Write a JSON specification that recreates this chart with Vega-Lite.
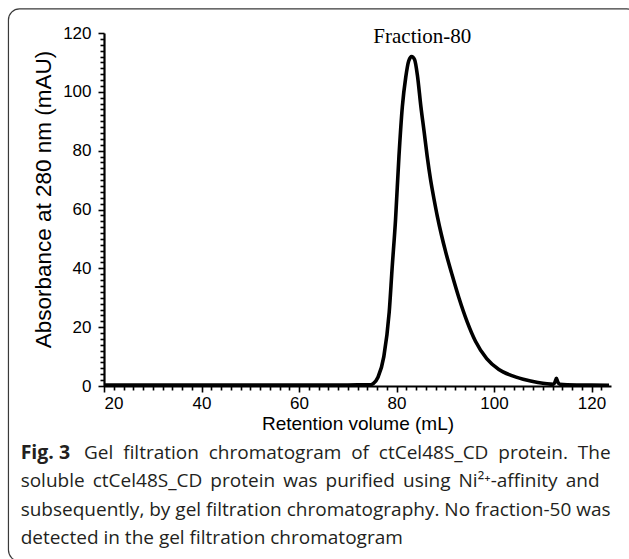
{
  "$schema": "https://vega.github.io/schema/vega-lite/v6.json",
  "width": 507,
  "height": 353,
  "autosize": "none",
  "padding": {"left": 104, "top": 33, "right": 18, "bottom": 173},
  "background": "white",
  "config": {"view": {"stroke": null}},
  "data": {
    "values": [
      {"v": 20, "a": 0.3}, {"v": 40, "a": 0.3}, {"v": 60, "a": 0.3}, {"v": 70, "a": 0.35},
      {"v": 74.5, "a": 0.4}, {"v": 75.2, "a": 0.8}, {"v": 76.2, "a": 3}, {"v": 77.4, "a": 10},
      {"v": 78.5, "a": 25}, {"v": 79.1, "a": 40}, {"v": 79.8, "a": 56.5}, {"v": 80.5, "a": 78},
      {"v": 81.2, "a": 95}, {"v": 81.9, "a": 105}, {"v": 82.5, "a": 110.5}, {"v": 83.1, "a": 112},
      {"v": 83.7, "a": 111}, {"v": 84.3, "a": 105.5}, {"v": 85.0, "a": 95}, {"v": 85.7, "a": 86},
      {"v": 86.3, "a": 78}, {"v": 87.0, "a": 70}, {"v": 87.7, "a": 63.5}, {"v": 88.4, "a": 57.5},
      {"v": 89.2, "a": 51.5}, {"v": 90.1, "a": 45.5}, {"v": 91.4, "a": 37.8}, {"v": 92.8, "a": 30},
      {"v": 94.5, "a": 21.8}, {"v": 96.2, "a": 15.2}, {"v": 98.5, "a": 9.3}, {"v": 101, "a": 5.6},
      {"v": 103.5, "a": 3.6}, {"v": 106, "a": 2.3}, {"v": 109, "a": 1.2}, {"v": 112.2, "a": 0.6},
      {"v": 112.5, "a": 1.3}, {"v": 112.8, "a": 2.6}, {"v": 113.1, "a": 1.3}, {"v": 113.5, "a": 0.6},
      {"v": 117, "a": 0.35}, {"v": 120, "a": 0.3}, {"v": 123.6, "a": 0.25}
    ]
  },
  "resolve": {"axis": {"x": "independent", "y": "independent"}},
  "layer": [
    {
      "transform": [{"filter": "datum.v == 20"}],
      "mark": {"type": "rect", "fill": "transparent", "stroke": "#3a3a3a", "strokeWidth": 1.2, "cornerRadius": 11},
      "encoding": {
        "x": {"datum": 0.4, "type": "quantitative", "axis": null},
        "x2": {"datum": 129.5},
        "y": {"datum": 128.2, "type": "quantitative", "axis": null},
        "y2": {"datum": -59.5}
      }
    },
    {
      "mark": {"type": "line", "color": "black", "strokeWidth": 3.6, "strokeJoin": "round", "interpolate": "monotone"},
      "encoding": {
        "x": {
          "field": "v", "type": "quantitative",
          "scale": {"domain": [20, 124], "nice": false, "zero": false},
          "axis": {
            "orient": "bottom",
            "title": "Retention volume (mL)",
            "titleFont": "Liberation Sans", "titleFontSize": 19, "titleFontWeight": "normal", "titleColor": "black", "titlePadding": 3,
            "values": [20, 40, 60, 80, 100, 120],
            "labelOverlap": false,
            "labelFont": "Liberation Sans", "labelFontSize": 17, "labelColor": "black", "labelPadding": 3,
            "tickSize": 6, "tickColor": "black", "tickWidth": 1.6,
            "domainColor": "black", "domainWidth": 2.2,
            "grid": false
          }
        },
        "y": {
          "field": "a", "type": "quantitative",
          "scale": {"domain": [0, 120], "nice": false},
          "axis": {
            "orient": "left",
            "title": "Absorbance at 280 nm (mAU)",
            "titleFont": "Liberation Sans", "titleFontSize": 22.5, "titleFontWeight": "normal", "titleColor": "black", "titlePadding": 7,
            "titleY": 166,
            "values": [0, 20, 40, 60, 80, 100, 120],
            "labelOverlap": false,
            "labelFont": "Liberation Sans", "labelFontSize": 17, "labelColor": "black", "labelPadding": 7,
            "tickSize": 6, "tickColor": "black", "tickWidth": 1.6,
            "domainColor": "black", "domainWidth": 2.2,
            "grid": false
          }
        }
      }
    },
    {
      "mark": {"type": "line", "opacity": 0},
      "encoding": {
        "x": {
          "field": "v", "type": "quantitative",
          "axis": {
            "orient": "bottom", "title": null, "labels": false, "domain": false, "grid": false,
            "values": [22,24,26,28,30,32,34,36,38,42,44,46,48,50,52,54,56,58,62,64,66,68,70,72,74,76,78,82,84,86,88,90,92,94,96,98,102,104,106,108,110,112,114,116,118,122],
            "tickSize": 4, "tickColor": "black", "tickWidth": 1.6
          }
        },
        "y": {
          "field": "a", "type": "quantitative",
          "axis": {
            "orient": "left", "title": null, "labels": false, "domain": false, "grid": false,
            "values": [2,4,6,8,10,12,14,16,18,22,24,26,28,30,32,34,36,38,42,44,46,48,50,52,54,56,58,62,64,66,68,70,72,74,76,78,82,84,86,88,90,92,94,96,98,102,104,106,108,110,112,114,116,118],
            "tickSize": 4, "tickColor": "black", "tickWidth": 1.6
          }
        }
      }
    },
    {
      "data": {"values": [{}]},
      "mark": {"type": "text", "text": "Fraction-80", "font": "Liberation Serif", "fontSize": 21, "baseline": "alphabetic", "align": "center", "color": "black"},
      "encoding": {"x": {"datum": 85.3, "type": "quantitative", "axis": null}, "y": {"datum": 116.6, "type": "quantitative", "axis": null}}
    },
    {
      "data": {"values": [{}]},
      "mark": {"type": "text", "text": "Fig. 3", "font": "Open Sans", "fontSize": 19.5, "fontWeight": "bold", "baseline": "alphabetic", "align": "left", "color": "#231f20"},
      "encoding": {"x": {"datum": 2.9, "type": "quantitative", "axis": null}, "y": {"datum": -24.82, "type": "quantitative", "axis": null}}
    },
    {
      "data": {"values": [{}]},
      "mark": {"type": "text", "text": "Gel\u00a0 filtration\u00a0 chromatogram\u00a0 of\u00a0 ctCel48S_CD\u00a0 protein.\u00a0 The", "font": "Open Sans", "fontSize": 19, "baseline": "alphabetic", "align": "left", "color": "#231f20"},
      "encoding": {"x": {"datum": 15.9, "type": "quantitative", "axis": null}, "y": {"datum": -24.82, "type": "quantitative", "axis": null}}
    },
    {
      "data": {"values": [{}]},
      "mark": {"type": "text", "text": ["soluble\u2009 ctCel48S_CD\u2009 protein\u2009 was\u2009 purified\u2009 using\u2009 Ni²⁺-affinity\u2009 and", "subsequently, by gel filtration chromatography. No fraction-50 was", "detected in the gel filtration chromatogram"], "font": "Open Sans", "fontSize": 19, "lineHeight": 28.3, "baseline": "alphabetic", "align": "left", "color": "#231f20"},
      "encoding": {"x": {"datum": 2.9, "type": "quantitative", "axis": null}, "y": {"datum": -34.44, "type": "quantitative", "axis": null}}
    }
  ]
}
